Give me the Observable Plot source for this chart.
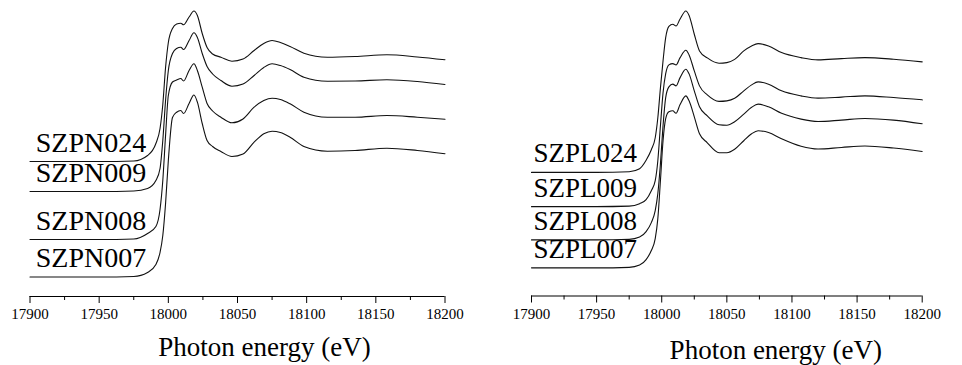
<!DOCTYPE html>
<html>
<head>
<meta charset="utf-8">
<script src="https://cdn.jsdelivr.net/npm/d3@7"></script>
<script src="https://cdn.jsdelivr.net/npm/@observablehq/plot@0.6"></script>
<style>
  html, body { margin: 0; padding: 0; background: #fff; }
  #wrap { display: flex; width: 962px; height: 365px; }
  #wrap > div { width: 481px; height: 365px; }
</style>
</head>
<body>
<div id="wrap"><div id="left"></div><div id="right"></div></div>
<script>
// ---- Left panel (SZPN series): photon energy (eV) and offset normalized absorbance ----
const energyN = [17900, 17950, 17975, 17985, 17991, 17994, 17996, 17998, 18000, 18003, 18006, 18009, 18011, 18015, 18018.5, 18021, 18024.5, 18028, 18032, 18038, 18046, 18054, 18062, 18069, 18075, 18081, 18088, 18098, 18115, 18135, 18158, 18180, 18200];
const namesN = ["SZPN024", "SZPN009", "SZPN008", "SZPN007"];
const szpn024 = [1.35, 1.35, 1.355, 1.41, 1.53, 1.68, 1.92, 2.29, 2.54, 2.68, 2.725, 2.733, 2.717, 2.795, 2.855, 2.81, 2.63, 2.49, 2.425, 2.393, 2.353, 2.375, 2.46, 2.53, 2.56, 2.54, 2.50, 2.433, 2.393, 2.40, 2.417, 2.395, 2.367];
const szpn009 = [1.05, 1.05, 1.055, 1.08, 1.16, 1.28, 1.56, 1.96, 2.26, 2.43, 2.48, 2.493, 2.47, 2.56, 2.637, 2.59, 2.43, 2.30, 2.225, 2.16, 2.103, 2.125, 2.21, 2.29, 2.327, 2.31, 2.27, 2.193, 2.153, 2.155, 2.167, 2.15, 2.12];
const szpn008 = [0.57, 0.57, 0.575, 0.63, 0.70, 0.87, 1.16, 1.61, 2.01, 2.145, 2.165, 2.18, 2.155, 2.26, 2.327, 2.26, 2.093, 1.93, 1.855, 1.793, 1.737, 1.775, 1.893, 1.96, 1.983, 1.97, 1.927, 1.843, 1.793, 1.793, 1.81, 1.793, 1.773];
const szpn007 = [0.195, 0.195, 0.20, 0.24, 0.32, 0.44, 0.61, 0.93, 1.36, 1.79, 1.843, 1.86, 1.83, 1.93, 2.015, 1.943, 1.73, 1.56, 1.50, 1.45, 1.40, 1.425, 1.543, 1.627, 1.653, 1.64, 1.593, 1.50, 1.453, 1.46, 1.483, 1.46, 1.427];

// ---- Right panel (SZPL series) ----
const energyL = [17900, 17950, 17975, 17983, 17988, 17992, 17995, 17997, 17999, 18001, 18003, 18005.5, 18008.5, 18011, 18014, 18018.5, 18021, 18025, 18029, 18035, 18044, 18050, 18056, 18063, 18069, 18074, 18082, 18092, 18107, 18120, 18138, 18156, 18178, 18200];
const namesL = ["SZPL024", "SZPL009", "SZPL008", "SZPL007"];
const szpl024 = [1.238, 1.238, 1.245, 1.275, 1.36, 1.465, 1.585, 1.785, 2.085, 2.355, 2.585, 2.70, 2.722, 2.705, 2.772, 2.855, 2.81, 2.622, 2.455, 2.385, 2.332, 2.338, 2.37, 2.455, 2.505, 2.528, 2.505, 2.438, 2.388, 2.365, 2.378, 2.388, 2.372, 2.345];
const szpl009 = [0.895, 0.895, 0.90, 0.925, 0.965, 1.055, 1.155, 1.355, 1.705, 2.035, 2.225, 2.315, 2.328, 2.315, 2.385, 2.462, 2.415, 2.255, 2.105, 2.015, 1.95, 1.955, 1.98, 2.055, 2.115, 2.145, 2.122, 2.055, 2.005, 1.982, 1.992, 2.005, 1.988, 1.965];
const szpl008 = [0.562, 0.562, 0.567, 0.59, 0.645, 0.735, 0.855, 1.025, 1.325, 1.705, 1.985, 2.095, 2.122, 2.105, 2.185, 2.272, 2.225, 2.055, 1.895, 1.805, 1.715, 1.71, 1.745, 1.822, 1.89, 1.922, 1.895, 1.83, 1.772, 1.748, 1.762, 1.778, 1.762, 1.725];
const szpl007 = [0.282, 0.282, 0.287, 0.31, 0.365, 0.455, 0.575, 0.775, 1.155, 1.555, 1.775, 1.845, 1.855, 1.83, 1.915, 2.005, 1.955, 1.795, 1.625, 1.535, 1.435, 1.435, 1.47, 1.555, 1.625, 1.655, 1.638, 1.575, 1.50, 1.472, 1.488, 1.502, 1.482, 1.448];

// ---- Axis ticks and title ----
const majorTicks = [17900, 17950, 18000, 18050, 18100, 18150, 18200];
const minorTicks = [17925, 17975, 18025, 18075, 18125, 18175];
const xTitle = "Photon energy (eV)";

const serif = '"Liberation Serif", "Times New Roman", "DejaVu Serif", serif';

function panel(o) {
  const rows = o.series.flatMap((vals, i) => vals.map((v, j) => ({E: o.energy[j], v, s: o.names[i]})));
  const labels = o.series.map((vals, i) => ({E: o.labelE, v: vals[0], s: o.names[i]}));
  return Plot.plot({
    width: 481,
    height: 365,
    marginLeft: o.marginLeft,
    marginRight: o.marginRight,
    marginTop: 0,
    marginBottom: o.marginBottom,
    style: {fontFamily: serif, fontSize: "15px", color: "#000", background: "#fff", overflow: "visible"},
    x: {domain: [17900, 18200]},
    y: {domain: [0, 2.96], axis: null},
    marks: [
      Plot.ruleY([0], {stroke: "#000", strokeWidth: 1.2}),
      Plot.axisX(minorTicks, {tickSize: 4, tickFormat: () => "", label: null, stroke: "#000"}),
      Plot.axisX(majorTicks, {tickSize: 7, tickPadding: 5, tickFormat: d => String(d), label: null, stroke: "#000", fill: "#000", fontSize: 15}),
      Plot.line(rows, {x: "E", y: "v", z: "s", stroke: "#111", strokeWidth: 1.1, curve: "monotone-x"}),
      Plot.text(labels, {x: "E", y: "v", text: "s", textAnchor: "end", lineAnchor: "bottom", dy: -10, fontSize: o.labelSize, fill: "#000"}),
      Plot.text([xTitle], {frameAnchor: "bottom", lineAnchor: "bottom", dx: o.titleDx, dy: o.titleDy, fontSize: 27, fill: "#000"})
    ]
  });
}

document.getElementById("left").append(panel({
  energy: energyN, names: namesN, series: [szpn024, szpn009, szpn008, szpn007],
  labelE: 17984, labelSize: 28,
  marginLeft: 29.5, marginRight: 36.5, marginBottom: 69,
  titleDx: 27, titleDy: 59
}));
document.getElementById("right").append(panel({
  energy: energyL, names: namesL, series: [szpl024, szpl009, szpl008, szpl007],
  labelE: 17981, labelSize: 27,
  marginLeft: 50, marginRight: 40.3, marginBottom: 69.5,
  titleDx: 49, titleDy: 62.5
}));
</script>
</body>
</html>
